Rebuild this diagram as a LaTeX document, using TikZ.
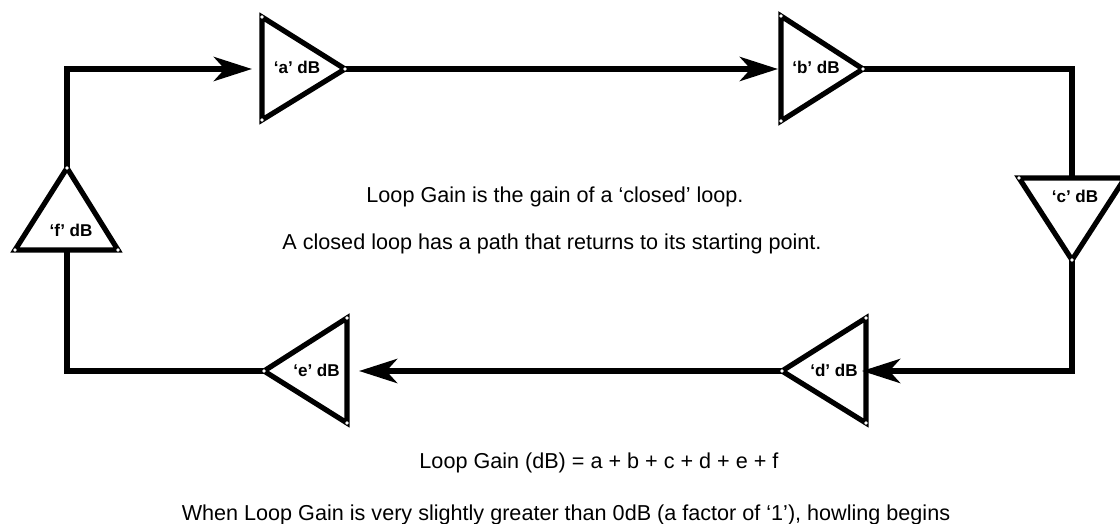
\documentclass[tikz,border=0pt]{standalone}
\usepackage{fontspec}
\setmainfont{Liberation Sans}
\usetikzlibrary{arrows.meta}
\tikzset{
    amp/.style={line width=3.9pt,line join=miter,miter limit=10},
    wire/.style={line width=4.6pt,line join=miter},
    feed/.style={wire,-{Stealth[length=28.5pt,width=18pt,inset=8pt]}},
    gain/.style={font=\fontsize{12.8pt}{14pt}\selectfont\bfseries,inner sep=0pt,anchor=base},
    note/.style={font=\fontsize{16.2pt}{18pt}\selectfont,inner sep=0pt,anchor=base}
}
\begin{document}
\begin{tikzpicture}[x=0.75pt,y=-0.75pt]
    \useasboundingbox (0,0) rectangle (1120,524);
    \foreach \n/\xa/\ya/\xb/\yb/\xc/\yc in {
        a/262/17/262/120/345/69,
        b/781/16/781/121/863/69,
        c/1019/178/1125/178/1072/260,
        d/782/371/866/318/866/423,
        e/264/371/347/318/347/423,
        f/67/168/15/250/118/250
    } {
        \coordinate (\n1) at (\xa,\ya);
        \coordinate (\n2) at (\xb,\yb);
        \coordinate (\n3) at (\xc,\yc);
    }
    \coordinate (ain) at (252,69);
    \coordinate (bin) at (778,69);
    \coordinate (cin) at (1072,178);
    \coordinate (din) at (862,371);
    \coordinate (ein) at (359,371);
    \coordinate (fin) at (67,250);
    \coordinate (fa) at (67,69);
    \coordinate (bc) at (1072,69);
    \coordinate (cd) at (1072,371);
    \coordinate (ef) at (67,371);
    \draw[feed] (f1) -- (fa) -- (ain);
    \draw[feed] (a3) -- (bin);
    \draw[wire] (b3) -- (bc) -- (cin);
    \draw[feed] (c3) -- (cd) -- (din);
    \draw[feed] (d1) -- (ein);
    \draw[wire] (e1) -- (ef) -- (fin);
    \foreach \n/\xt/\yt in {a/297/74,b/816/74,c/1075/202,d/834/376,e/316.5/376,f/71/236} {
        \draw[amp] (\n1) -- (\n2) -- (\n3) -- cycle;
        \foreach \i in {1,2,3} {
            \fill[white] (\n\i) circle (1.4pt);
        }
        \node[gain] (\n label) at (\xt,\yt) {`\n' dB};
    }
    \node[note] (title) at (555,202) {Loop Gain is the gain of a `closed' loop.};
    \node[note] (path) at (552,249) {A closed loop has a path that returns to its starting point.};
    \node[note] (sum) at (599,468) {Loop Gain (dB) = a + b + c + d + e + f};
    \node[note] (howl) at (566,520) {When Loop Gain is very slightly greater than 0dB (a factor of `1'), howling begins};
\end{tikzpicture}
\end{document}
